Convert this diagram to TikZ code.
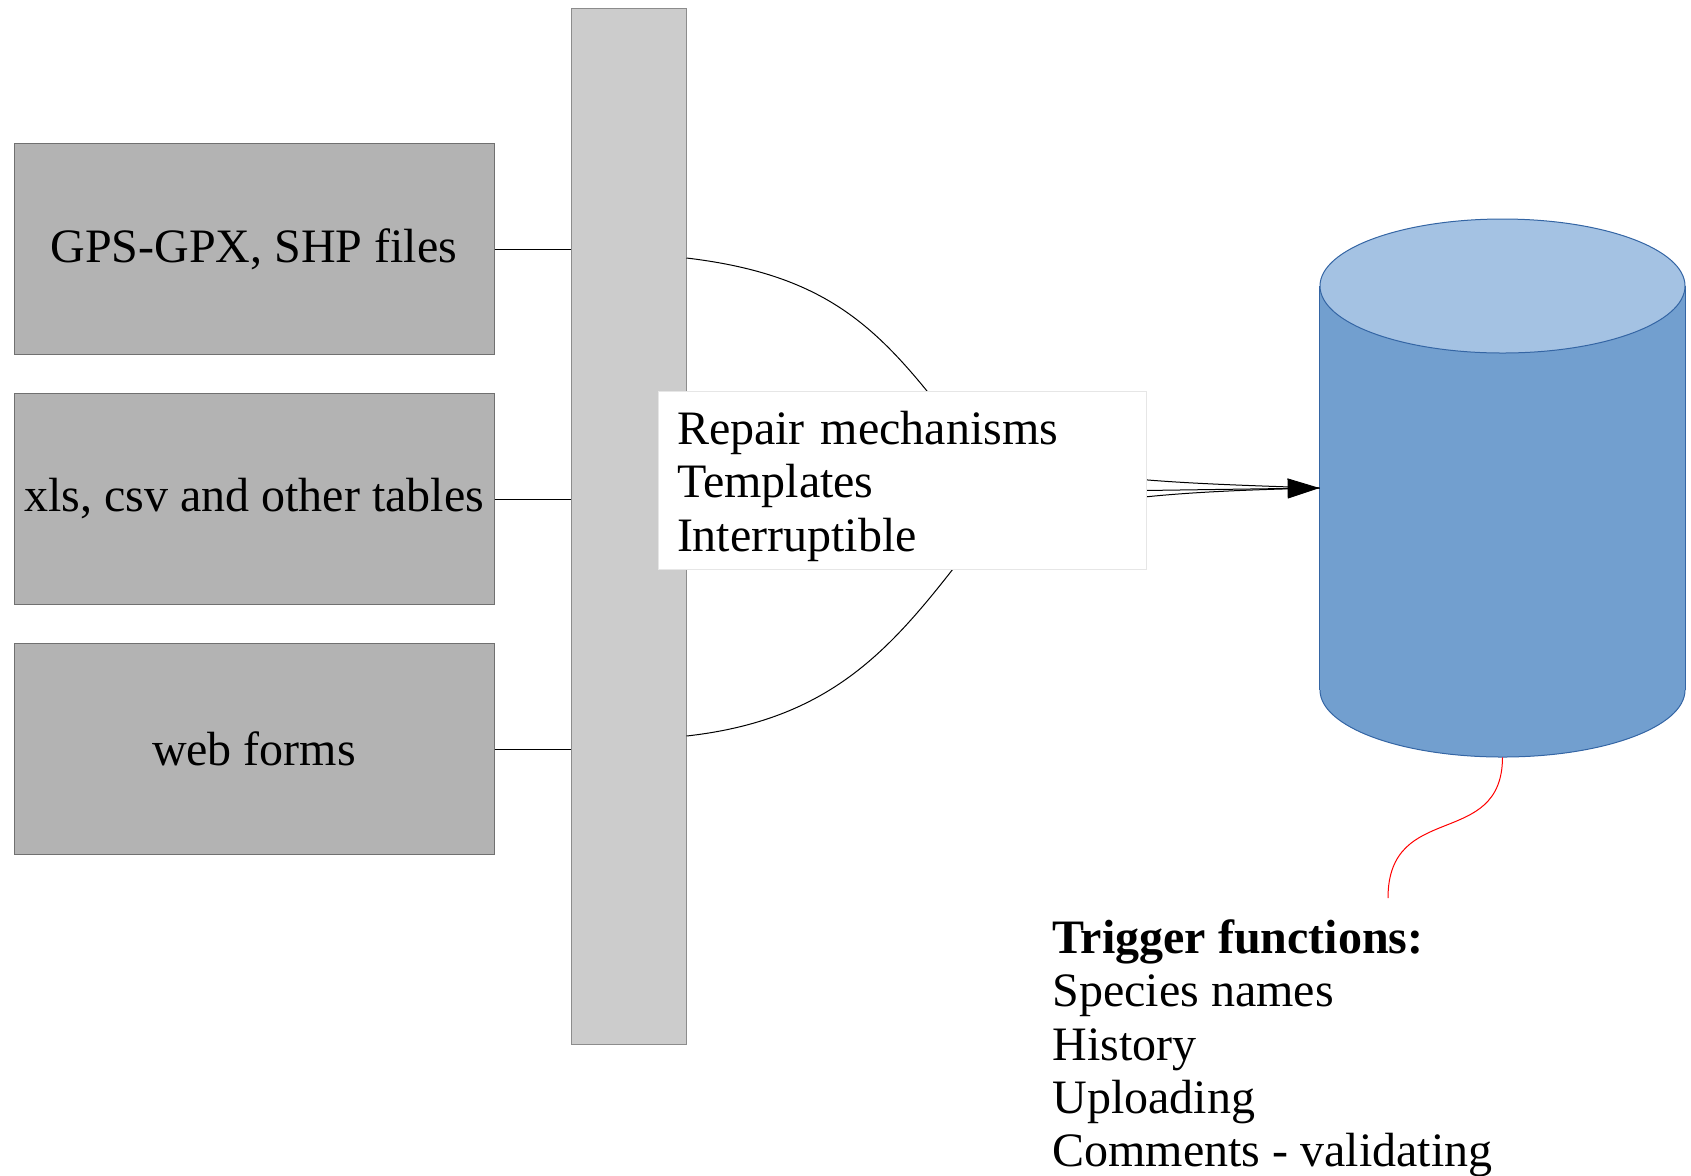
\documentclass[tikz,border=0pt]{standalone}
\usepackage{fontspec}
\setmainfont{Liberation Serif}
\usepackage{tikz}
\usetikzlibrary{positioning}
\usetikzlibrary{arrows.meta}
\definecolor{boxgray}{HTML}{B3B3B3}
\definecolor{boxline}{HTML}{707070}
\definecolor{barfill}{HTML}{CCCCCC}
\definecolor{barline}{HTML}{8C8C8C}
\definecolor{tbline}{HTML}{E6E6E6}
\definecolor{dbbody}{HTML}{729FCF}
\definecolor{dbtop}{HTML}{A4C2E3}
\definecolor{dbline}{HTML}{3465A4}
\newcommand\bigfont{\fontsize{24}{26.7}\selectfont}

\begin{document}
\begin{tikzpicture}[x=0.5pt,y=-0.5pt,
  srcbox/.style={rectangle,draw=boxline,fill=boxgray,line width=0.5pt,
    minimum width=240pt,minimum height=105.5pt,inner sep=0pt,font=\bigfont},
  link/.style={draw=black,line width=0.5pt}]
\useasboundingbox (0,0) rectangle (1691,1175);

% input sources
\node[srcbox] (b1) at (254,249) {GPS-GPX, SHP files};
\node[srcbox,below=19pt of b1] (b2) {xls, csv and other tables};
\node[srcbox,below=19pt of b2] (b3) {web forms};

% collecting bar
\node[rectangle,draw=barline,fill=barfill,line width=0.5pt,
  minimum width=57.5pt,minimum height=518pt,inner sep=0pt] (bar) at (628.5,526) {};

\foreach \b in {b1,b2,b3}
  \draw[link] (\b.east) -- (\b.east -| bar.west);

% database
\node[rectangle,minimum width=182.5pt,minimum height=269pt,inner sep=0pt] (db) at (1502.5,488) {};
\fill[dbbody,draw=dbline,line width=0.5pt] (1502.5,690) ellipse [x radius=91.25pt,y radius=33.5pt];
\fill[dbbody] (db.west |- 0,286) rectangle (db.east |- 0,690);
\draw[dbline,line width=0.5pt] (db.west |- 0,286) -- (db.west |- 0,690);
\draw[dbline,line width=0.5pt] (db.east |- 0,286) -- (db.east |- 0,690);
\filldraw[fill=dbtop,draw=dbline,line width=0.5pt] (1502.5,286) ellipse [x radius=91.25pt,y radius=33.5pt];

% connectors into the database
\draw[link] ([yshift=134pt]bar.east) .. controls (830,275) and (880,330) .. (950,420)
  .. controls (1010,480) and (1150,482) .. (db.west);
\draw[link] ([yshift=-105pt]bar.east) .. controls (830,720) and (890,650) .. (960,560)
  .. controls (1020,500) and (1150,492) .. (db.west);
\draw[link,-{Triangle[length=16pt,width=10pt]}] ([yshift=14.5pt]bar.east) -- (db.west);

% processing box
\node[rectangle,draw=tbline,fill=white,line width=0.5pt,minimum height=89pt,
  text width=225pt,inner xsep=9.5pt,align=left,font=\bigfont] (tb) at (902,480)
  {\rule{0pt}{23pt}Repair mechanisms\\Templates\\Interruptible};

% triggers
\coordinate (trg) at (1388,898);
\draw[red,line width=0.5pt] (db.south) .. controls (1502,850) and (1388,800) .. (trg);
\node[anchor=north west,inner sep=0pt,align=left,font=\bigfont] (tf) at (1052,919)
  {\textbf{Trigger functions:}\\Species names\\History\\Uploading\\Comments - validating};
\end{tikzpicture}
\end{document}
